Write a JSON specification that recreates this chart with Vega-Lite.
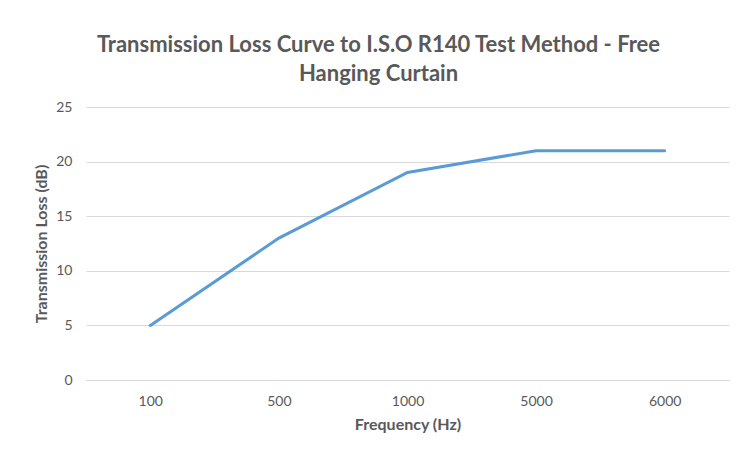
{
  "$schema": "https://vega.github.io/schema/vega-lite/v6.json",
  "autosize": "none",
  "width": 643,
  "height": 273,
  "padding": {"left": 86, "top": 107, "right": 8, "bottom": 71},
  "background": "white",
  "title": {
    "text": ["Transmission Loss Curve to I.S.O R140 Test Method - Free", "Hanging Curtain"],
    "font": "Lato",
    "fontSize": 22,
    "fontWeight": "bold",
    "color": "#595959",
    "anchor": "middle",
    "frame": "group",
    "dx": -29,
    "offset": 14,
    "lineHeight": 29
  },
  "data": {
    "values": [
      {"freq": "100", "loss": 5},
      {"freq": "500", "loss": 13},
      {"freq": "1000", "loss": 19},
      {"freq": "5000", "loss": 21},
      {"freq": "6000", "loss": 21}
    ]
  },
  "mark": {"type": "line", "color": "#5B9BD5", "strokeWidth": 3, "strokeCap": "round"},
  "encoding": {
    "x": {
      "field": "freq",
      "type": "ordinal",
      "sort": null,
      "scale": {"paddingInner": 0, "paddingOuter": 0.5, "align": 0.5},
      "axis": {
        "title": "Frequency (Hz)",
        "labelAngle": 0,
        "domain": true,
        "domainColor": "#d9d9d9",
        "ticks": false,
        "labelPadding": 14,
        "labelFont": "Lato",
        "labelFontSize": 14,
        "labelColor": "#595959",
        "titleFont": "Lato",
        "titleFontSize": 16,
        "titleFontWeight": "bold",
        "titleColor": "#595959",
        "titlePadding": 8,
        "grid": false
      }
    },
    "y": {
      "field": "loss",
      "type": "quantitative",
      "scale": {"domain": [0, 25]},
      "axis": {
        "title": "Transmission Loss (dB)",
        "values": [0, 5, 10, 15, 20, 25],
        "domain": false,
        "ticks": false,
        "grid": true,
        "gridColor": "#d9d9d9",
        "labelPadding": 14,
        "labelFont": "Lato",
        "labelFontSize": 14,
        "labelColor": "#595959",
        "titleFont": "Lato",
        "titleFontSize": 16,
        "titleFontWeight": "bold",
        "titleColor": "#595959",
        "titlePadding": 6
      }
    }
  },
  "config": {"view": {"stroke": null}}
}
